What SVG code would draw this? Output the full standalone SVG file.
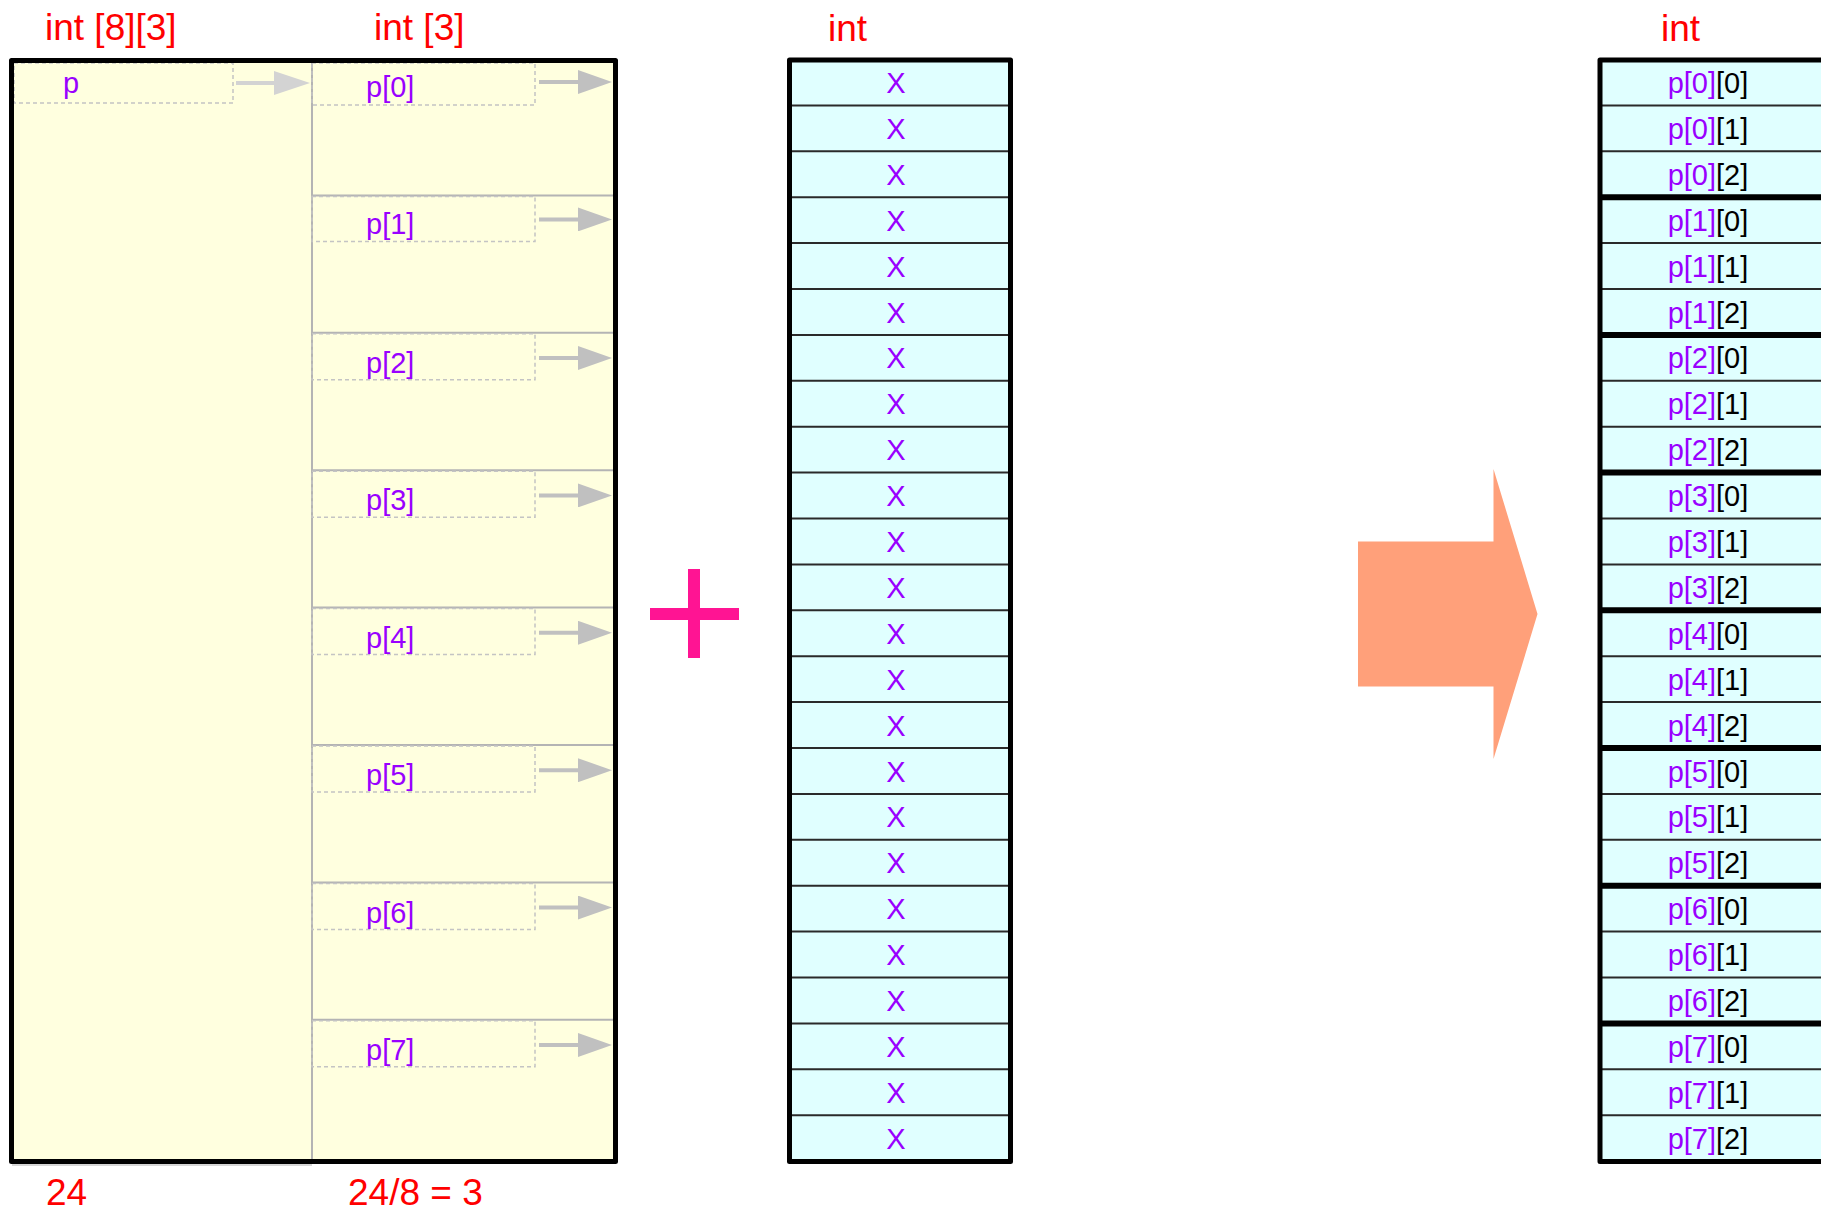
<svg xmlns="http://www.w3.org/2000/svg" width="1821" height="1214" viewBox="0 0 1821 1214">
<style>
text{font-family:"Liberation Sans",Arial,sans-serif}
.lbl{font-size:37px;fill:#ff0000}
.pt{font-size:29px;fill:#9900ff}
.x{font-size:29px;fill:#9900ff;text-anchor:middle}
.pp{font-size:29px;fill:#000;text-anchor:middle}
.pv{fill:#9900ff}
.dash{fill:none;stroke:#c4c4c4;stroke-width:1.5;stroke-dasharray:4 3}
.sep{stroke:#b4b4b4;stroke-width:2}
.rl{stroke:#2a2a2a;stroke-width:2}
.rt{stroke:#000;stroke-width:6}
.outer{fill:none;stroke:#000;stroke-width:5;stroke-linejoin:round}
.arr{stroke:#c0c0c0;stroke-width:4;marker-end:url(#ah)}
.arrl{stroke:#d3d3d3;stroke-width:4;marker-end:url(#ahl)}
</style>
<defs>
<marker id="ah" markerUnits="userSpaceOnUse" markerWidth="34" markerHeight="24" refX="2" refY="12" orient="auto"><path d="M0,0 L34,12 L0,24 Z" fill="#c0c0c0"/></marker>
<marker id="ahl" markerUnits="userSpaceOnUse" markerWidth="36" markerHeight="24" refX="2" refY="12" orient="auto"><path d="M0,0 L36,12 L0,24 Z" fill="#d3d3d3"/></marker>
</defs>
<rect width="1821" height="1214" fill="#fff"/>

<g id="labels">
<text class="lbl" x="45" y="40">int [8][3]</text>
<text class="lbl" x="374" y="40">int [3]</text>
<text class="lbl" x="828" y="41">int</text>
<text class="lbl" x="1661" y="41">int</text>
<text class="lbl" x="46" y="1205">24</text>
<text class="lbl" x="348" y="1205">24/8 = 3</text>
</g>

<g id="array2d">
<rect x="11.5" y="60.5" width="604" height="1101" fill="#ffffdf"/>
<line x1="312" y1="60" x2="312" y2="1161" stroke="#b4b4b4" stroke-width="2"/>
<line x1="12" y1="1165" x2="312" y2="1165" stroke="#c8c8c8" stroke-width="1.5"/>
<g id="cell-p">
<rect class="dash" x="14" y="63" width="219" height="40"/>
<text class="pt" x="63" y="93">p</text>
</g>
<line class="sep" x1="312" y1="195.4" x2="614" y2="195.4"/>
<line class="sep" x1="312" y1="332.8" x2="614" y2="332.8"/>
<line class="sep" x1="312" y1="470.2" x2="614" y2="470.2"/>
<line class="sep" x1="312" y1="607.6" x2="614" y2="607.6"/>
<line class="sep" x1="312" y1="745" x2="614" y2="745"/>
<line class="sep" x1="312" y1="882.4" x2="614" y2="882.4"/>
<line class="sep" x1="312" y1="1019.8" x2="614" y2="1019.8"/>
<g id="row-p0"><rect class="dash" x="312" y="63" width="223" height="42"/><text class="pt" x="366" y="97">p[0]</text></g>
<g id="row-p1"><rect class="dash" x="312" y="196.4" width="223" height="45"/><text class="pt" x="366" y="234.4">p[1]</text></g>
<g id="row-p2"><rect class="dash" x="312" y="333.8" width="223" height="46"/><text class="pt" x="366" y="373">p[2]</text></g>
<g id="row-p3"><rect class="dash" x="312" y="471.2" width="223" height="46"/><text class="pt" x="366" y="510.4">p[3]</text></g>
<g id="row-p4"><rect class="dash" x="312" y="608.6" width="223" height="46"/><text class="pt" x="366" y="647.8">p[4]</text></g>
<g id="row-p5"><rect class="dash" x="312" y="746" width="223" height="46"/><text class="pt" x="366" y="785.2">p[5]</text></g>
<g id="row-p6"><rect class="dash" x="312" y="883.4" width="223" height="46"/><text class="pt" x="366" y="922.6">p[6]</text></g>
<g id="row-p7"><rect class="dash" x="312" y="1020.8" width="223" height="46"/><text class="pt" x="366" y="1060">p[7]</text></g>
<rect class="outer" x="11.5" y="60.5" width="604" height="1101"/>
</g>

<g id="connectors">
<line class="arrl" x1="236" y1="83" x2="276" y2="83"/>
<line class="arr" x1="539" y1="82" x2="580" y2="82"/>
<line class="arr" x1="539" y1="219.4" x2="580" y2="219.4"/>
<line class="arr" x1="539" y1="358" x2="580" y2="358"/>
<line class="arr" x1="539" y1="495.4" x2="580" y2="495.4"/>
<line class="arr" x1="539" y1="632.8" x2="580" y2="632.8"/>
<line class="arr" x1="539" y1="770.2" x2="580" y2="770.2"/>
<line class="arr" x1="539" y1="907.6" x2="580" y2="907.6"/>
<line class="arr" x1="539" y1="1045" x2="580" y2="1045"/>
</g>

<g id="plus">
<rect x="650" y="608" width="89" height="12" fill="#ff1493"/>
<rect x="688" y="569" width="12" height="89" fill="#ff1493"/>
</g>

<g id="int-array">
<rect x="789.5" y="60" width="221" height="1101.5" fill="#e0ffff"/>
<g>
<line class="rl" x1="790" y1="105.4" x2="1010" y2="105.4"/>
<line class="rl" x1="790" y1="151.3" x2="1010" y2="151.3"/>
<line class="rl" x1="790" y1="197.2" x2="1010" y2="197.2"/>
<line class="rl" x1="790" y1="243.1" x2="1010" y2="243.1"/>
<line class="rl" x1="790" y1="289" x2="1010" y2="289"/>
<line class="rl" x1="790" y1="334.9" x2="1010" y2="334.9"/>
<line class="rl" x1="790" y1="380.8" x2="1010" y2="380.8"/>
<line class="rl" x1="790" y1="426.7" x2="1010" y2="426.7"/>
<line class="rl" x1="790" y1="472.6" x2="1010" y2="472.6"/>
<line class="rl" x1="790" y1="518.5" x2="1010" y2="518.5"/>
<line class="rl" x1="790" y1="564.4" x2="1010" y2="564.4"/>
<line class="rl" x1="790" y1="610.3" x2="1010" y2="610.3"/>
<line class="rl" x1="790" y1="656.2" x2="1010" y2="656.2"/>
<line class="rl" x1="790" y1="702.1" x2="1010" y2="702.1"/>
<line class="rl" x1="790" y1="748" x2="1010" y2="748"/>
<line class="rl" x1="790" y1="793.9" x2="1010" y2="793.9"/>
<line class="rl" x1="790" y1="839.8" x2="1010" y2="839.8"/>
<line class="rl" x1="790" y1="885.7" x2="1010" y2="885.7"/>
<line class="rl" x1="790" y1="931.6" x2="1010" y2="931.6"/>
<line class="rl" x1="790" y1="977.5" x2="1010" y2="977.5"/>
<line class="rl" x1="790" y1="1023.4" x2="1010" y2="1023.4"/>
<line class="rl" x1="790" y1="1069.3" x2="1010" y2="1069.3"/>
<line class="rl" x1="790" y1="1115.2" x2="1010" y2="1115.2"/>
</g>
<text class="x" x="896" y="93">X</text>
<text class="x" x="896" y="138.9">X</text>
<text class="x" x="896" y="184.8">X</text>
<text class="x" x="896" y="230.7">X</text>
<text class="x" x="896" y="276.6">X</text>
<text class="x" x="896" y="322.5">X</text>
<text class="x" x="896" y="368.4">X</text>
<text class="x" x="896" y="414.3">X</text>
<text class="x" x="896" y="460.2">X</text>
<text class="x" x="896" y="506.1">X</text>
<text class="x" x="896" y="552">X</text>
<text class="x" x="896" y="597.9">X</text>
<text class="x" x="896" y="643.8">X</text>
<text class="x" x="896" y="689.7">X</text>
<text class="x" x="896" y="735.6">X</text>
<text class="x" x="896" y="781.5">X</text>
<text class="x" x="896" y="827.4">X</text>
<text class="x" x="896" y="873.3">X</text>
<text class="x" x="896" y="919.2">X</text>
<text class="x" x="896" y="965.1">X</text>
<text class="x" x="896" y="1011">X</text>
<text class="x" x="896" y="1056.9">X</text>
<text class="x" x="896" y="1102.8">X</text>
<text class="x" x="896" y="1148.7">X</text>
<rect class="outer" x="789.5" y="60" width="221" height="1101.5"/>
</g>

<g id="big-arrow">
<polygon points="1358,541.5 1493.5,541.5 1493.5,469 1537.5,614 1493.5,759 1493.5,686.5 1358,686.5" fill="#ffa07a"/>
</g>

<g id="result-array">
<rect x="1600" y="60" width="300" height="1101.5" fill="#e0ffff"/>
<g>
<line class="rl" x1="1600" y1="105.4" x2="1821" y2="105.4"/>
<line class="rl" x1="1600" y1="151.3" x2="1821" y2="151.3"/>
<line class="rt" x1="1600" y1="197.2" x2="1821" y2="197.2"/>
<line class="rl" x1="1600" y1="243.1" x2="1821" y2="243.1"/>
<line class="rl" x1="1600" y1="289" x2="1821" y2="289"/>
<line class="rt" x1="1600" y1="334.9" x2="1821" y2="334.9"/>
<line class="rl" x1="1600" y1="380.8" x2="1821" y2="380.8"/>
<line class="rl" x1="1600" y1="426.7" x2="1821" y2="426.7"/>
<line class="rt" x1="1600" y1="472.6" x2="1821" y2="472.6"/>
<line class="rl" x1="1600" y1="518.5" x2="1821" y2="518.5"/>
<line class="rl" x1="1600" y1="564.4" x2="1821" y2="564.4"/>
<line class="rt" x1="1600" y1="610.3" x2="1821" y2="610.3"/>
<line class="rl" x1="1600" y1="656.2" x2="1821" y2="656.2"/>
<line class="rl" x1="1600" y1="702.1" x2="1821" y2="702.1"/>
<line class="rt" x1="1600" y1="748" x2="1821" y2="748"/>
<line class="rl" x1="1600" y1="793.9" x2="1821" y2="793.9"/>
<line class="rl" x1="1600" y1="839.8" x2="1821" y2="839.8"/>
<line class="rt" x1="1600" y1="885.7" x2="1821" y2="885.7"/>
<line class="rl" x1="1600" y1="931.6" x2="1821" y2="931.6"/>
<line class="rl" x1="1600" y1="977.5" x2="1821" y2="977.5"/>
<line class="rt" x1="1600" y1="1023.4" x2="1821" y2="1023.4"/>
<line class="rl" x1="1600" y1="1069.3" x2="1821" y2="1069.3"/>
<line class="rl" x1="1600" y1="1115.2" x2="1821" y2="1115.2"/>
</g>
<text class="pp" x="1708" y="93"><tspan class="pv">p[0]</tspan>[0]</text>
<text class="pp" x="1708" y="138.9"><tspan class="pv">p[0]</tspan>[1]</text>
<text class="pp" x="1708" y="184.8"><tspan class="pv">p[0]</tspan>[2]</text>
<text class="pp" x="1708" y="230.7"><tspan class="pv">p[1]</tspan>[0]</text>
<text class="pp" x="1708" y="276.6"><tspan class="pv">p[1]</tspan>[1]</text>
<text class="pp" x="1708" y="322.5"><tspan class="pv">p[1]</tspan>[2]</text>
<text class="pp" x="1708" y="368.4"><tspan class="pv">p[2]</tspan>[0]</text>
<text class="pp" x="1708" y="414.3"><tspan class="pv">p[2]</tspan>[1]</text>
<text class="pp" x="1708" y="460.2"><tspan class="pv">p[2]</tspan>[2]</text>
<text class="pp" x="1708" y="506.1"><tspan class="pv">p[3]</tspan>[0]</text>
<text class="pp" x="1708" y="552"><tspan class="pv">p[3]</tspan>[1]</text>
<text class="pp" x="1708" y="597.9"><tspan class="pv">p[3]</tspan>[2]</text>
<text class="pp" x="1708" y="643.8"><tspan class="pv">p[4]</tspan>[0]</text>
<text class="pp" x="1708" y="689.7"><tspan class="pv">p[4]</tspan>[1]</text>
<text class="pp" x="1708" y="735.6"><tspan class="pv">p[4]</tspan>[2]</text>
<text class="pp" x="1708" y="781.5"><tspan class="pv">p[5]</tspan>[0]</text>
<text class="pp" x="1708" y="827.4"><tspan class="pv">p[5]</tspan>[1]</text>
<text class="pp" x="1708" y="873.3"><tspan class="pv">p[5]</tspan>[2]</text>
<text class="pp" x="1708" y="919.2"><tspan class="pv">p[6]</tspan>[0]</text>
<text class="pp" x="1708" y="965.1"><tspan class="pv">p[6]</tspan>[1]</text>
<text class="pp" x="1708" y="1011"><tspan class="pv">p[6]</tspan>[2]</text>
<text class="pp" x="1708" y="1056.9"><tspan class="pv">p[7]</tspan>[0]</text>
<text class="pp" x="1708" y="1102.8"><tspan class="pv">p[7]</tspan>[1]</text>
<text class="pp" x="1708" y="1148.7"><tspan class="pv">p[7]</tspan>[2]</text>
<rect class="outer" x="1600" y="60" width="300" height="1101.5"/>
</g>
</svg>
